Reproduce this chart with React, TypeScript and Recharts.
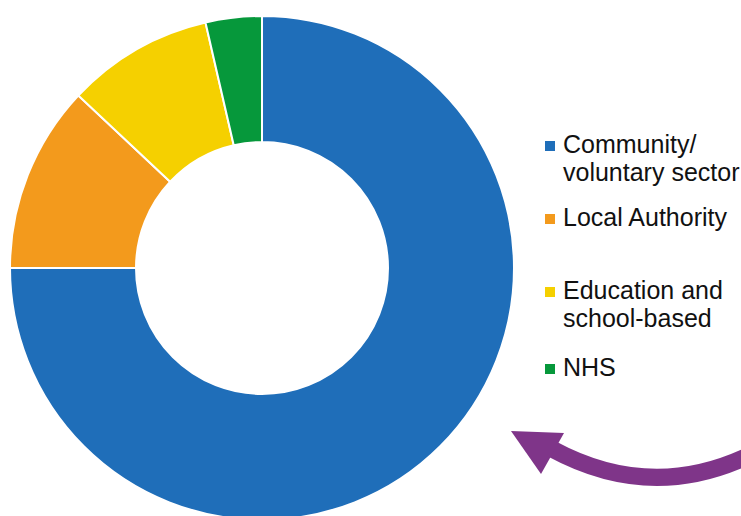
import React from "react";
import { PieChart, Pie, Cell } from "recharts";

const categories = ["Community/ voluntary sector", "Local Authority", "Education and school-based", "NHS"];
const values = [75, 12, 9.4, 3.6];
const colors = ["#1F6EB9", "#F39A1C", "#F5D000", "#06983B"];
const legendLines = [["Community/", "voluntary sector"], ["Local Authority"], ["Education and", "school-based"], ["NHS"]];
const legendTops = [141, 214, 287, 364];

const data = categories.map((name, i) => ({ name, value: values[i] }));

export default function App() {
  return (
    <div style={{ position: "fixed", left: 0, top: 0, width: 741, height: 516, background: "#fff", overflow: "hidden" }}>
      <PieChart width={741} height={516} margin={{ top: 0, right: 0, bottom: 0, left: 0 }}>
        <Pie
          data={data}
          dataKey="value"
          nameKey="name"
          cx={262}
          cy={268}
          outerRadius={252}
          innerRadius={126}
          startAngle={90}
          endAngle={-270}
          stroke="#ffffff"
          strokeWidth={2}
          isAnimationActive={false}
        >
          {data.map((d, i) => (
            <Cell key={d.name} fill={colors[i]} />
          ))}
        </Pie>
      </PieChart>
      <svg width={741} height={516} style={{ position: "absolute", left: 0, top: 0 }}>
        {legendLines.map((lines, i) => (
          <g key={i}>
            <rect x={545} y={legendTops[i]} width={10} height={10} fill={colors[i]} />
            {lines.map((t, j) => (
              <text
                key={j}
                x={563}
                y={legendTops[i] + 12 + j * 28}
                fontFamily="'Liberation Sans', Arial, sans-serif"
                fontSize={25}
                fill="#111"
              >
                {t}
              </text>
            ))}
          </g>
        ))}
        <path d="M 552 449 Q 650 502 748 456" fill="none" stroke="#7F3589" strokeWidth={17} />
        <polygon points="511,431 564,433 541,474" fill="#7F3589" />
      </svg>
    </div>
  );
}
